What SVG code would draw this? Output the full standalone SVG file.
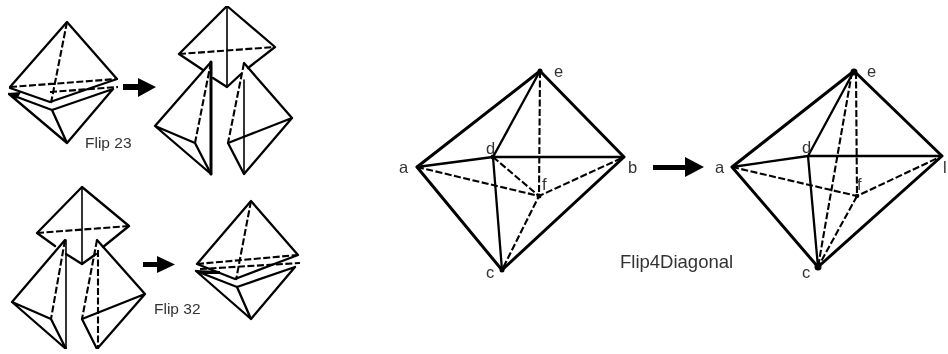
<svg xmlns="http://www.w3.org/2000/svg" width="948" height="354" viewBox="0 0 948 354">
<defs><filter id="soft" x="0" y="0" width="100%" height="100%"><feGaussianBlur stdDeviation="0.45"/></filter></defs>
<style>
.s{fill:none;stroke:#000;stroke-width:2.3;stroke-linecap:round;stroke-linejoin:round}
.t{stroke-width:3}
.n{stroke-width:1.6}
.d{fill:none;stroke:#000;stroke-width:2.1;stroke-dasharray:7 2.5}
text{font-family:"Liberation Sans",Arial,sans-serif;fill:#333}
.l{font-size:16.5px}
.c{font-size:15.5px}
.w{font-size:18.500px}
.a{fill:#000}
</style>
<rect width="948" height="354" fill="#fff"/>
<g filter="url(#soft)">
<g id="flip23-before">
<path class="s" d="M10 87L67 22L117 79M9 94L67 143L113 89M10 88L50 102L117 79M9 94L52 110L113 89M52 110L67 143"/>
<path class="d" d="M67 22L51 103M10 87L117 79M50 92L118 87"/>
<path d="M8 93L21 92L17 99Z" class="a"/>
</g>
<g id="flip23-after-top">
<path class="s" d="M203 70L179 54L227 6L275 47L248 68M213 78L227 87L241 74"/>
<path class="s n" d="M227 6L227 87"/>
<path class="d" d="M179 54L275 47"/>
</g>
<g id="flip23-after-left">
<path class="s" d="M211 62L155 126L211 174L195 143L155 126"/>
<path class="s t" d="M211 62L211 174"/>
<path class="d" d="M211 62L195 143"/>
</g>
<g id="flip23-after-right">
<path class="s" d="M244 63L292 118L244 174L228 143L292 118"/>
<path class="s n" d="M244 80L244 174"/>
<path class="d" d="M244 63L228 143"/>
</g>
<g id="flip32-before-top">
<path class="s" d="M37 233L82 187L129 226L103 247M37 233L55 246M66 254L82 264L96 254"/>
<path class="s n" d="M82 187L82 264"/>
<path class="d" d="M37 233L129 226"/>
</g>
<g id="flip32-before-left">
<path class="s" d="M65 240L12 302L66 349L51 319L12 302"/>
<path class="s n" d="M66 240L66 349"/>
<path class="d" d="M65 240L51 319"/>
</g>
<g id="flip32-before-right">
<path class="s" d="M97 240L145 294L97 349L82 319L145 294"/>
<path class="d" d="M97 240L82 319M98 250L98 349"/>
</g>
<g id="flip32-after">
<path class="s" d="M197 264L251 201L298 255M196 271L251 319L295 267M197 264L235 279L298 255M196 271L237 287L295 267M237 287L251 319"/>
<path class="d" d="M251 201L236 280M197 264L298 255M200 269L300 263"/>
<path d="M195 270L220 271L220 274L205 274Z" class="a"/>
</g>
<g id="flip4-before">
<path class="s t" d="M417 167L540 71L624 157L502 270Z"/>
<path class="s" d="M540 71L493 157M417 167L493 157L624 157M493 157L502 270"/>
<path class="d" d="M540 71L539 196M417 167L539 196L624 157M493 157L539 196L502 270"/>
<circle cx="540" cy="71" r="2.5"/><circle cx="493" cy="157" r="2.5"/><circle cx="539" cy="196" r="2.5"/><circle cx="502" cy="270" r="2.5"/>
</g>
<g id="flip4-after">
<path class="s t" d="M732 167L854 71L942 156L818 267Z"/>
<path class="s" d="M854 71L808 156M732 167L808 156L942 156M808 156L818 267"/>
<path class="d" d="M856 72L857 196M732 167L857 196L942 156M857 196L818 267M852 72L818 267"/>
<circle cx="854" cy="72" r="3.5"/><circle cx="857" cy="196" r="2.2"/><circle cx="818" cy="267" r="3.5"/>
</g>
<g id="connectors">
<path class="a" d="M123 84H138V78L156 87L138 97V90H123Z"/>
<path class="a" d="M143 262H157V256L175 264.500L157 273V267H143Z"/>
<path class="a" d="M653 165H685V157L704 167L685 177V170H653Z"/>
</g>
<g id="labels">
<text class="c" x="85" y="148">Flip 23</text>
<text class="c" x="154" y="314">Flip 32</text>
<text class="w" x="620" y="268">Flip4Diagonal</text>
<text class="l" x="399" y="173">a</text>
<text class="l" x="628" y="173">b</text>
<text class="l" x="486" y="278">c</text>
<text class="l" x="486" y="154">d</text>
<text class="l" x="554" y="77">e</text>
<text class="l" x="542" y="190">f</text>
<text class="l" x="715" y="173">a</text>
<text class="l" x="943" y="173">l</text>
<text class="l" x="802" y="278">c</text>
<text class="l" x="802" y="153">d</text>
<text class="l" x="867" y="77">e</text>
<text class="l" x="857" y="190">f</text>
</g>
</g>
</svg>
